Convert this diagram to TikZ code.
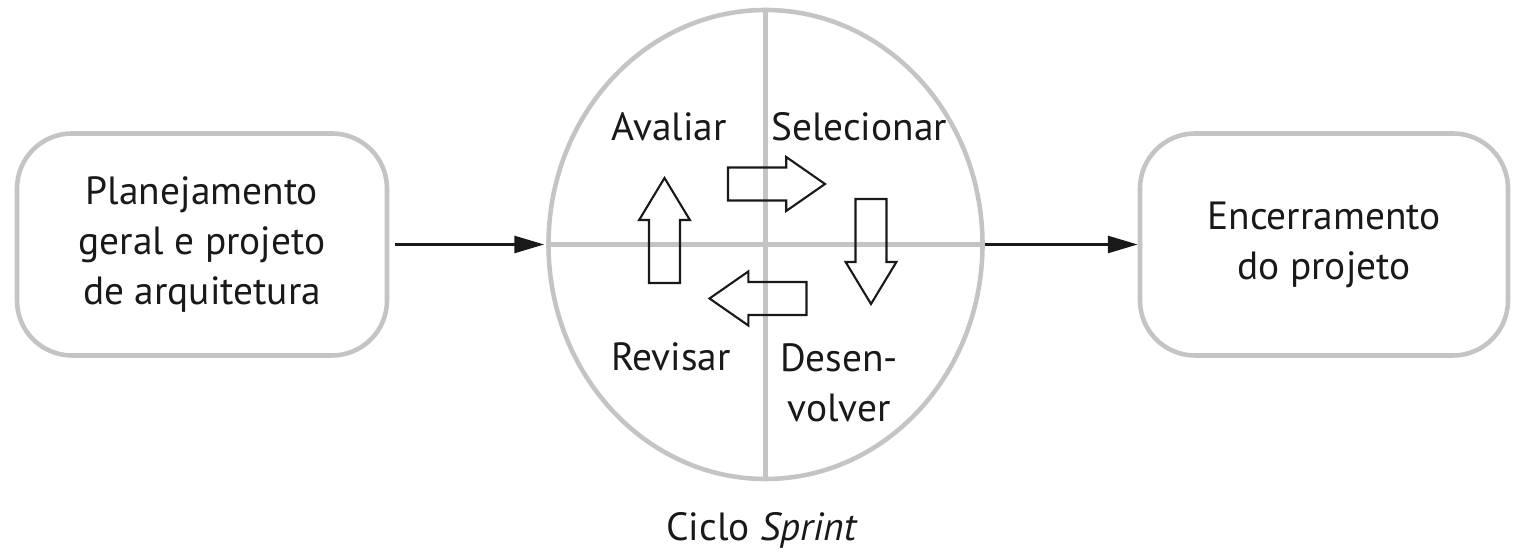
\documentclass[tikz,border=0pt]{standalone}
\usepackage{fontspec}
\setmainfont{PT Sans}
\usetikzlibrary{arrows.meta,shapes.geometric}
\definecolor{LineClr}{rgb}{0.77,0.77,0.78}
\definecolor{ArrowClr}{rgb}{0.1,0.1,0.1}

\tikzset{
  procbox/.style={draw=LineClr,line width=1.3pt,rounded corners=.55cm,
    minimum width=3.7cm,minimum height=2.22cm,align=center,inner sep=0pt},
  cycleline/.style={draw=LineClr,line width=1.3pt},
  flowarrow/.style={draw=ArrowClr,line width=.85pt,
    -{Triangle[length=8.5pt,width=4.8pt]}},
  blockarrow/.pic={
    \draw[ArrowClr,line width=.6pt,line join=miter]
      (-.5,-.165) -- (.1,-.165) -- (.1,-.27) -- (.5,0)
      -- (.1,.27) -- (.1,.165) -- (-.5,.165) -- cycle;
  },
}

\begin{document}
\begin{tikzpicture}[font=\fontsize{11.2}{14.2}\selectfont,text=ArrowClr]
\useasboundingbox (0,0) rectangle (15.13,5.55);

% sprint cycle
\node[ellipse,draw=LineClr,line width=1.3pt,minimum width=4.34cm,
  minimum height=4.69cm,inner sep=0pt] (cyc) at (7.655,3.105) {};
\draw[cycleline] (cyc.north) -- (cyc.south);
\draw[cycleline] (cyc.west) -- (cyc.east);

\pic[xscale=.97] at (7.765,3.71) {blockarrow};
\pic[rotate=-90,xscale=1.05,yscale=.94] at (8.71,3.035) {blockarrow};
\pic[rotate=180,xscale=.97] at (7.58,2.565) {blockarrow};
\pic[rotate=90,xscale=1.05,yscale=.94] at (6.645,3.245) {blockarrow};

\node[anchor=base] (aval) at (6.69,4.14) {Avaliar};
\node[anchor=base] (sel) at (8.59,4.14) {Selecionar};
\node[anchor=base] (rev) at (6.71,1.84) {Revisar};
\node[align=center] (desen) at (8.39,1.72) {Desen-\\volver};
\node[anchor=base] (ciclo) at (7.62,.14) {Ciclo \textit{Sprint}};

% phases
\node[procbox] (plan) at (2.02,3.105) {Planejamento\\geral e projeto\\de arquitetura};
\node[procbox,minimum width=3.68cm] (encer) at (13.24,3.105)
  {\raisebox{-1.2pt}{Encerramento}\\\raisebox{-1.2pt}{do projeto}};

\draw[flowarrow,shorten <=.06cm,shorten >=.02cm] (plan) -- (cyc);
\draw[flowarrow] (cyc) -- (encer);

\end{tikzpicture}
\end{document}
